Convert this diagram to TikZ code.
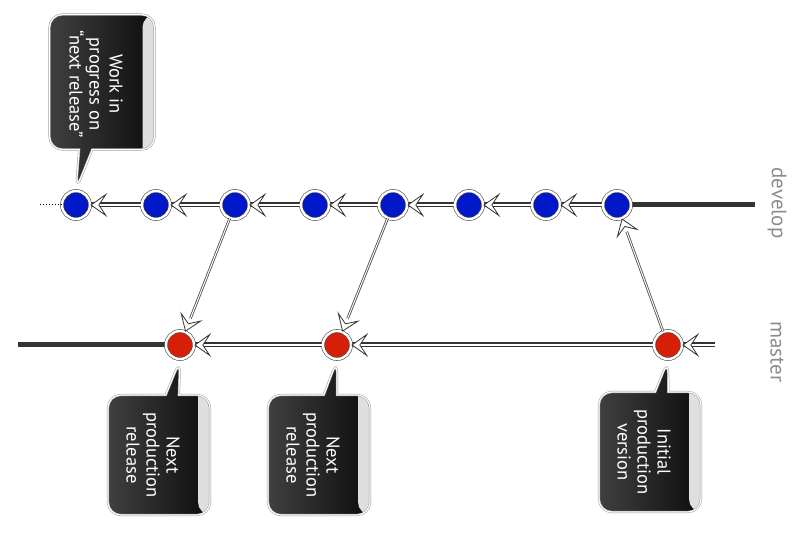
\documentclass[tikz,border=0pt]{standalone}
\usepackage{fontspec}
\setmainfont{PT Sans}
\usetikzlibrary{arrows.meta,shapes.callouts,backgrounds}
\definecolor{devblue}{RGB}{0,24,200}
\definecolor{relred}{RGB}{214,30,8}
\tikzset{
  commit/.style={circle,minimum size=28pt,inner sep=0,line width=0.6pt,draw=black!70,double=white,double distance=2.4pt},
  branch/.style={draw=black!80,line width=5pt},
  tip/.style={-{Stealth[length=17pt,width=24pt,inset=8pt,color=black!80,fill=white,line width=0.8pt]}},
  flow/.style={tip,draw=white,line width=2.4pt},
  merge/.style={tip,draw=white,line width=1pt,preaction={draw=black!70,line width=2.6pt,-,shorten >=14pt}},
  note/.style={rectangle callout,rounded corners=13pt,minimum width=102pt,minimum height=120pt,callout pointer width=13pt,
    left color=black!75,right color=black!95,draw=black!40,double=white,double distance=1.2pt,line width=0.5pt,
    path picture={\fill[gray!25]([xshift=-12pt]path picture bounding box.north east) rectangle (path picture bounding box.south east);}},
  notetext/.style={text=white,rotate=-90,align=center,font=\fontsize{18.5}{20}\selectfont},
  lbl/.style={text=black!45,font=\fontsize{21}{24}\selectfont,rotate=-90}
}
\begin{document}
\begin{tikzpicture}[x=1pt,y=-1pt]
\useasboundingbox (0,0) rectangle (804,534);
% develop
\node[commit,fill=devblue](d1)at(76,205){};
\node[commit,fill=devblue](d2)at(156,205){};
\node[commit,fill=devblue](d3)at(235,205){};
\node[commit,fill=devblue](d4)at(315,205){};
\node[commit,fill=devblue](d5)at(393,205){};
\node[commit,fill=devblue](d6)at(469,205){};
\node[commit,fill=devblue](d7)at(546,205){};
\node[commit,fill=devblue](d8)at(617,205){};
\coordinate(ds)at(40,205);
\coordinate(de)at(755,205);
% master
\node[commit,fill=relred](m1)at(180,345){};
\node[commit,fill=relred](m2)at(337,345){};
\node[commit,fill=relred](m3)at(668,345){};
\coordinate(ms)at(18,345);
\coordinate(me)at(715,345);
\begin{scope}[on background layer]
\draw[branch](d1)--(de);
\draw[branch](ms)--(me);
\end{scope}
\draw[dotted,line width=1pt](ds)--(d1);
\draw[flow](d2)--(d1);
\draw[flow](d3)--(d2);
\draw[flow](d4)--(d3);
\draw[flow](d5)--(d4);
\draw[flow](d6)--(d5);
\draw[flow](d7)--(d6);
\draw[flow](d8)--(d7);
\draw[flow](m2)--(m1);
\draw[flow](m3)--(m2);
\draw[flow](me)--(m3);
\draw[merge](d3)--(m1);
\draw[merge](d5)--(m2);
\draw[merge](m3)--(d8);
% notes
\node[note,minimum width=105pt,minimum height=135pt,callout absolute pointer={([yshift=1pt]d1.north)}](wip)at(102,82){};
\node[notetext](wipt)at(96,84){Work in\\progress on\\“next release”};
\node[note,callout absolute pointer={([yshift=-1pt]m1.south)}](r1)at(159,455){};
\node[notetext](r1t)at(153,455){Next\\production\\release};
\node[note,callout absolute pointer={([yshift=-1pt]m2.south)}](r2)at(319,455){};
\node[notetext](r2t)at(313,455){Next\\production\\release};
\node[note,callout absolute pointer={([yshift=-1pt]m3.south)}](r0)at(650,452){};
\node[notetext](r0t)at(644,452){Initial\\production\\version};
% branch names
\node[lbl](dev)at(777,203){develop};
\node[lbl](mas)at(777,352){master};
\end{tikzpicture}
\end{document}
